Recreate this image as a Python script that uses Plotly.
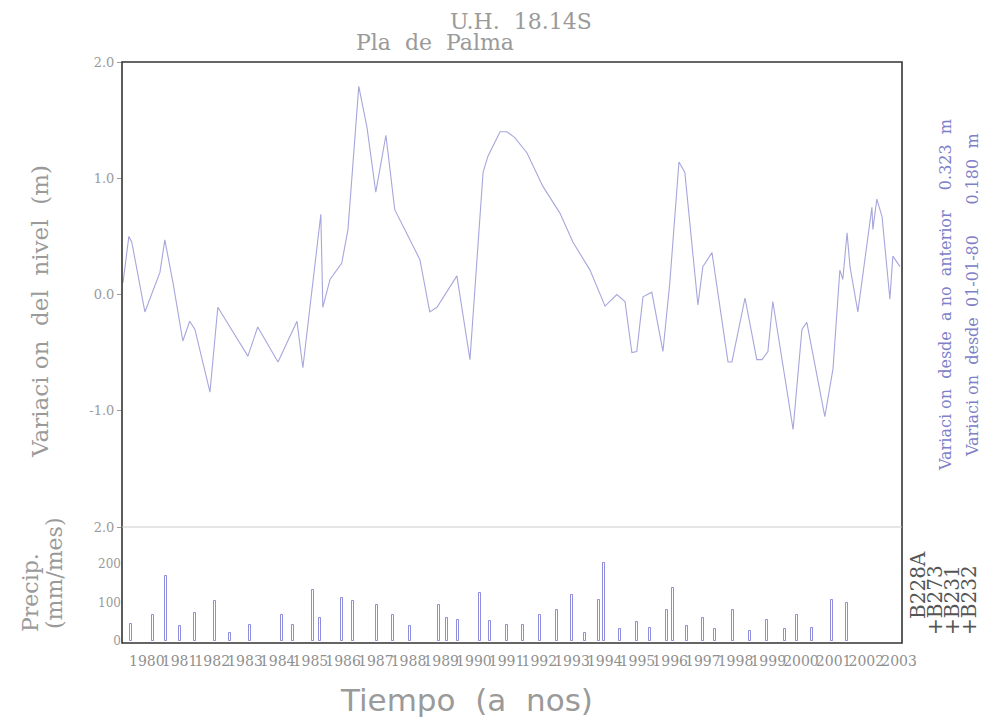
import plotly.graph_objects as go

# ---- data ----
level_years = [1979.27, 1979.45, 1979.54, 1979.94, 1980.40, 1980.55, 1980.80, 1981.10, 1981.31, 1981.47,
               1981.93, 1982.17, 1983.09, 1983.39, 1984.01, 1984.59, 1984.77, 1985.32, 1985.38, 1985.60,
               1985.96, 1986.15, 1986.48, 1986.73, 1987.00, 1987.31, 1987.58, 1987.74, 1988.04, 1988.35,
               1988.65, 1988.87, 1989.48, 1989.88, 1990.28, 1990.43, 1990.80, 1991.01, 1991.25, 1991.62,
               1992.11, 1992.63, 1993.03, 1993.55, 1994.01, 1994.37, 1994.62, 1994.83, 1994.98, 1995.17,
               1995.44, 1995.78, 1995.99, 1996.27, 1996.45, 1996.85, 1997.00, 1997.28, 1997.77, 1997.89,
               1998.29, 1998.65, 1998.81, 1998.99, 1999.14, 1999.76, 2000.03, 2000.18, 2000.73, 2000.98,
               2001.19, 2001.28, 2001.41, 2001.50, 2001.74, 2002.17, 2002.20, 2002.32, 2002.48, 2002.72,
               2002.81, 2003.03]
level_values = [0.10, 0.50, 0.45, -0.15, 0.19, 0.47, 0.10, -0.40, -0.23, -0.30,
                -0.84, -0.11, -0.53, -0.28, -0.58, -0.23, -0.63, 0.69, -0.11, 0.13,
                0.27, 0.56, 1.79, 1.44, 0.88, 1.37, 0.73, 0.64, 0.46, 0.30,
                -0.15, -0.11, 0.16, -0.56, 1.05, 1.19, 1.40, 1.40, 1.35, 1.22,
                0.93, 0.70, 0.45, 0.21, -0.10, 0.00, -0.06, -0.50, -0.49, -0.02,
                0.02, -0.49, 0.10, 1.14, 1.05, -0.09, 0.24, 0.36, -0.58, -0.58,
                -0.03, -0.56, -0.56, -0.49, -0.06, -1.16, -0.30, -0.24, -1.05, -0.64,
                0.21, 0.13, 0.53, 0.24, -0.15, 0.75, 0.56, 0.82, 0.67, -0.04,
                0.33, 0.24]

precip_years = [1979.51, 1980.18, 1980.58, 1981.01, 1981.47, 1982.08, 1982.54, 1983.15, 1984.13, 1984.46,
                1985.08, 1985.29, 1985.96, 1986.30, 1987.03, 1987.52, 1988.04, 1988.93, 1989.17, 1989.51,
                1990.18, 1990.49, 1991.01, 1991.50, 1992.02, 1992.54, 1993.00, 1993.39, 1993.82, 1993.98,
                1994.46, 1994.98, 1995.38, 1995.90, 1996.08, 1996.51, 1997.00, 1997.37, 1997.92, 1998.44,
                1998.96, 1999.51, 1999.88, 2000.34, 2000.95, 2001.41]
precip_values = [45, 67, 168, 39, 72, 103, 20, 41, 67, 41,
                 132, 59, 111, 103, 93, 67, 39, 93, 59, 55,
                 124, 52, 41, 41, 67, 80, 119, 20, 106, 201,
                 30, 50, 35, 80, 137, 39, 59, 30, 80, 25,
                 55, 30, 67, 35, 106, 98]

year_ticks = list(range(1980, 2004))
level_ticks = [2.0, 1.0, 0.0, -1.0, -2.0]
level_tick_text = ["2.0", "1.0", "0.0", "-1.0", "2.0"]
precip_ticks = [0, 100, 200]
legend_labels = ["B228A", "+B273", "+B231", "+B232"]

# ---- figure ----
grey = "#9a9a9a"
blue = "#8080c8"
serif = "DejaVu Serif"
fig = go.Figure()

fig.add_trace(go.Scatter(x=level_years, y=level_values, mode="lines",
                         line=dict(color="rgba(150,150,215,0.85)", width=1.1),
                         xaxis="x", yaxis="y", showlegend=False))

fig.add_trace(go.Bar(x=precip_years, y=precip_values, width=0.06,
                     marker=dict(color="rgba(0,0,0,0)", line=dict(color="rgba(130,130,215,0.9)", width=1)),
                     xaxis="x", yaxis="y2", showlegend=False))

split = 116 / 581
fig.update_layout(
    width=1001, height=722,
    margin=dict(l=122, r=99, t=62, b=79),
    paper_bgcolor="white", plot_bgcolor="white",
    bargap=0,
    xaxis=dict(range=[1979.24, 2003.09], tickmode="array", tickvals=year_ticks,
               ticktext=[str(y) for y in year_ticks], showgrid=False, zeroline=False,
               ticks="", tickangle=0, ticklabelstandoff=8,
               tickfont=dict(family=serif, size=14, color="#8f8f8f"),
               anchor="y2"),
    yaxis=dict(domain=[split, 1], range=[-2, 2], tickmode="array", tickvals=level_ticks,
               ticktext=level_tick_text, showgrid=False, zeroline=False, ticks="outside",
               ticklen=4, tickcolor=grey, tickfont=dict(family=serif, size=13, color=grey)),
    yaxis2=dict(domain=[0, split], range=[-5, 295], tickmode="array", tickvals=precip_ticks,
                showgrid=False, zeroline=False, ticks="",
                tickfont=dict(family=serif, size=12, color=grey)),
)

# frame
fig.add_shape(type="rect", xref="paper", yref="paper", x0=0, x1=1, y0=0, y1=1,
              line=dict(color="#333333", width=1.6))
fig.add_shape(type="line", xref="paper", yref="paper", x0=0, x1=1, y0=split, y1=split,
              line=dict(color="#cccccc", width=1.2))

def px_x(px):
    return (px - 122) / 780

def px_y(py):
    return (643 - py) / 581

def note(text, x, y, size, color, angle=0, family=serif):
    fig.add_annotation(text=text, xref="paper", yref="paper", x=px_x(x), y=px_y(y),
                       xanchor="center", yanchor="middle", showarrow=False, textangle=angle,
                       font=dict(family=family, size=size, color=color))

# titles
note("U.H.  18.14S", 521, 22, 22, grey)
note("Pla  de  Palma", 435, 42, 22, grey)

# axis titles
note("Variaci on  del  nivel  (m)", 40, 312, 23, grey, -90)
note("Precip.", 30, 593, 22, grey, -90)
note("(mm/mes)", 54, 574, 22, grey, -90)
note("Tiempo  (a  nos)", 466, 700, 31, grey, 0, "DejaVu Sans")

# right side texts
note("Variaci on  desde  a no  anterior    0.323  m", 945, 295, 16, blue, -90)
note("Variaci on  desde  01-01-80      0.180  m", 972, 295, 16, blue, -90)

# station labels
leg_x = [918, 935, 952, 969]
leg_y = [585, 600, 600, 600]
for lab, lx, ly in zip(legend_labels, leg_x, leg_y):
    note(lab, lx, ly, 20, "#555555", -90)

fig.write_html("out.html")
